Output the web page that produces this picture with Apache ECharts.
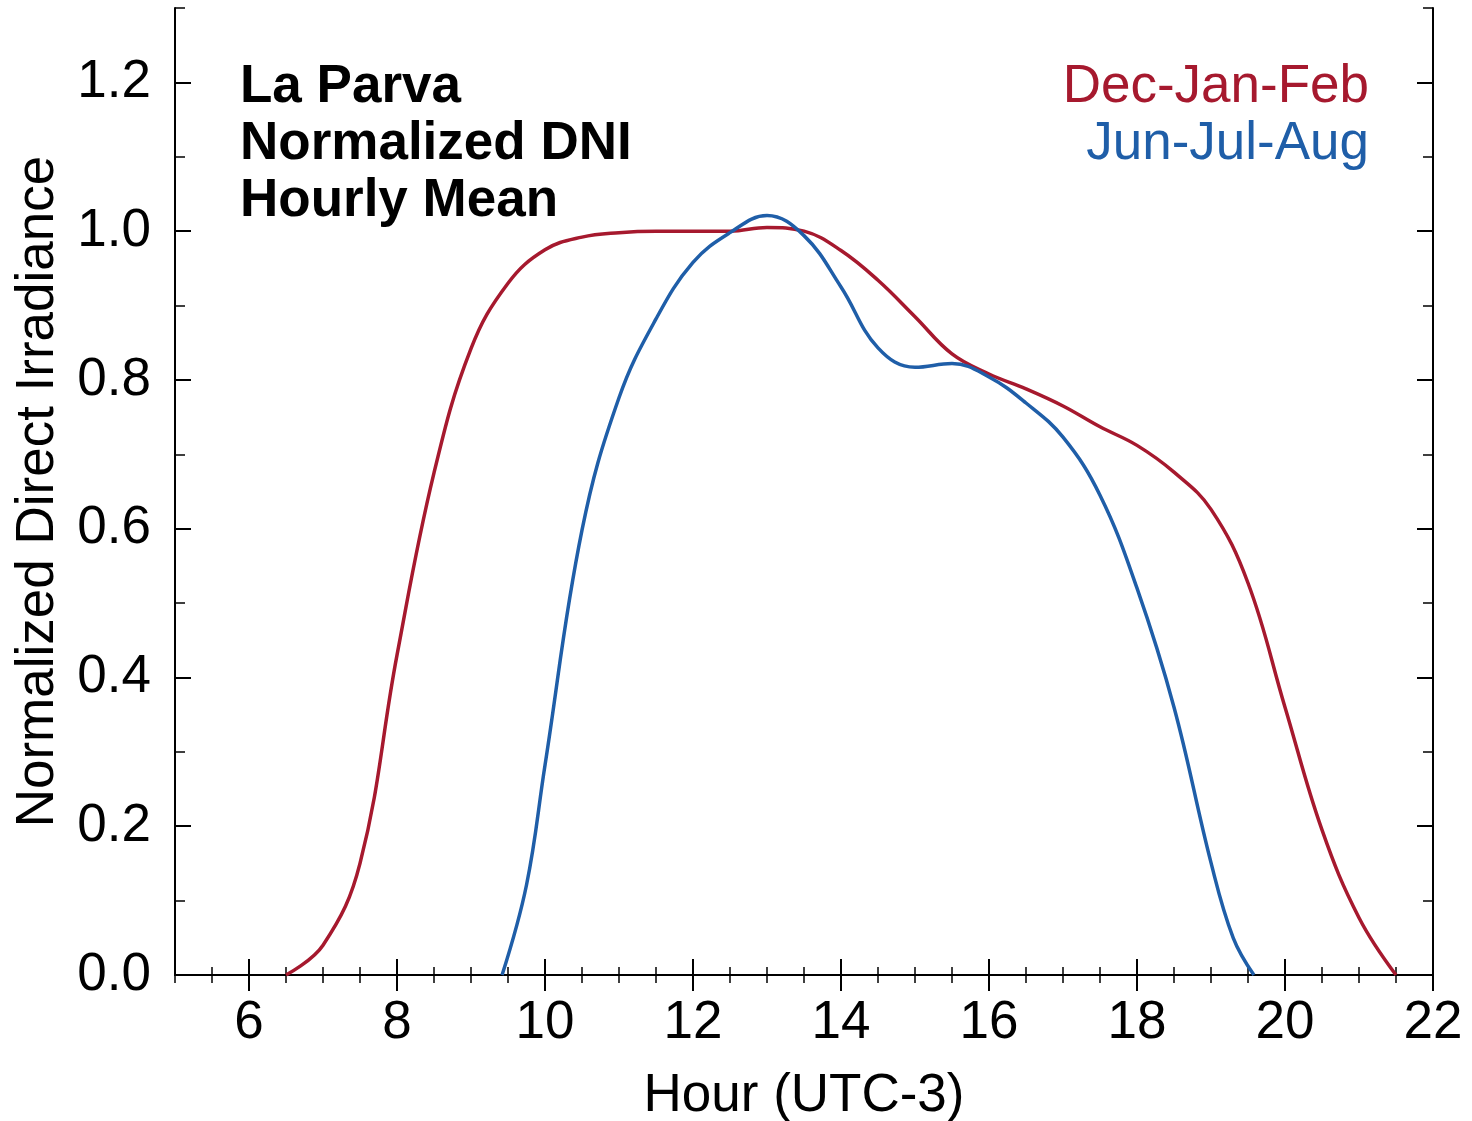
<!DOCTYPE html>
<html>
<head>
<meta charset="utf-8">
<title>La Parva Normalized DNI</title>
<script src="https://cdn.jsdelivr.net/npm/echarts@6/dist/echarts.min.js"></script>
<style>
  html, body { margin: 0; padding: 0; background: #fff; }
  #chart { width: 1472px; height: 1121px; }
</style>
</head>
<body>
<div id="chart"></div>
<script>
// Dec-Jan-Feb hourly mean, normalized (read every half hour)
var summerHours  = [6.5, 7.0, 7.5, 8.0, 8.5, 9.0, 9.5, 10.0, 10.5, 11.0, 11.5, 12.0, 12.5, 13.0, 13.5, 14.0, 14.5, 15.0, 15.5, 16.0, 16.5, 17.0, 17.5, 18.0, 18.5, 19.0, 19.5, 20.0, 20.5, 21.0, 21.5];
var summerValues = [0.0, 0.04, 0.15, 0.43, 0.675, 0.842, 0.93, 0.975, 0.992, 0.998, 1.0, 1.0, 1.0, 1.005, 1.0, 0.974, 0.934, 0.885, 0.835, 0.808, 0.788, 0.765, 0.737, 0.712, 0.676, 0.626, 0.527, 0.36, 0.195, 0.077, 0.0];

// Jun-Jul-Aug
var winterHours  = [9.42, 9.75, 10.0, 10.5, 11.0, 11.5, 12.0, 12.5, 13.0, 13.5, 14.0, 14.5, 15.0, 15.5, 16.0, 16.5, 17.0, 17.5, 18.0, 18.5, 19.0, 19.3, 19.58];
var winterValues = [0.0, 0.121, 0.282, 0.598, 0.776, 0.882, 0.958, 0.998, 1.021, 0.994, 0.925, 0.843, 0.817, 0.822, 0.804, 0.769, 0.723, 0.645, 0.52, 0.36, 0.151, 0.05, 0.0];

var xMajor = [6, 8, 10, 12, 14, 16, 18, 20, 22];
var yMajor = [0, 0.2, 0.4, 0.6, 0.8, 1.0, 1.2];

var RED = '#A6192E';
var BLUE = '#1F5EA8';
var FONT = 'Liberation Sans, Arial, sans-serif';

function zip(xs, ys) {
  return xs.map(function (x, i) { return [x, ys[i]]; });
}

var lineStyleAxis = { color: '#000', width: 2 };

function majorX(pos, withLabel) {
  return {
    type: 'value', position: pos, min: 5, max: 22,
    axisLine: { show: true, lineStyle: lineStyleAxis },
    axisTick: { show: true, inside: true, length: 16, lineStyle: { color: '#000', width: 2 }, customValues: xMajor },
    axisLabel: withLabel ? {
      show: true, customValues: xMajor, fontSize: 53, color: '#000', fontFamily: FONT, margin: 22
    } : { show: false },
    splitLine: { show: false },
    name: withLabel ? 'Hour (UTC-3)' : '',
    nameLocation: 'middle', nameGap: 95,
    nameTextStyle: { fontSize: 53, color: '#000', fontFamily: FONT }
  };
}
function minorX(pos) {
  return {
    type: 'value', position: pos, min: 5, max: 22, interval: 0.5,
    axisLine: { show: false },
    axisTick: { show: true, inside: true, length: 8, lineStyle: { color: '#000', width: 1.5 } },
    axisLabel: { show: false },
    splitLine: { show: false }
  };
}
function majorY(pos, withLabel) {
  return {
    type: 'value', position: pos, min: 0, max: 1.3,
    axisLine: { show: true, lineStyle: lineStyleAxis },
    axisTick: { show: true, inside: true, length: 16, lineStyle: { color: '#000', width: 2 }, customValues: yMajor },
    axisLabel: withLabel ? {
      show: true, customValues: yMajor, fontSize: 53, color: '#000', fontFamily: FONT, margin: 24,
      formatter: function (v) { return v.toFixed(1); }
    } : { show: false },
    splitLine: { show: false },
    name: withLabel ? 'Normalized Direct Irradiance' : '',
    nameLocation: 'middle', nameGap: 110,
    nameTextStyle: { fontSize: 53, color: '#000', fontFamily: FONT }
  };
}
function minorY(pos) {
  return {
    type: 'value', position: pos, min: 0, max: 1.3, interval: 0.1,
    axisLine: { show: false },
    axisTick: { show: true, inside: true, length: 10, lineStyle: { color: '#000', width: 1.5 } },
    axisLabel: { show: false },
    splitLine: { show: false }
  };
}

var myChart = echarts.init(document.getElementById('chart'));
myChart.setOption({
  backgroundColor: '#fff',
  animation: false,
  grid: { left: 175, right: 39, top: 8, bottom: 146, containLabel: false, outerBoundsMode: 'none' },
  title: {
    text: 'La Parva\nNormalized DNI\nHourly Mean',
    left: 235, top: 54,
    textStyle: { fontSize: 53, fontWeight: 'bold', color: '#000', fontFamily: FONT, lineHeight: 57 }
  },
  legend: {
    orient: 'vertical', right: 93, top: 54, align: 'right',
    icon: 'none', itemWidth: 0, itemHeight: 0, itemGap: 0,
    selectedMode: false,
    textStyle: { fontSize: 53, fontFamily: FONT, lineHeight: 57 },
    data: [
      { name: 'Dec-Jan-Feb', textStyle: { color: RED } },
      { name: 'Jun-Jul-Aug', textStyle: { color: BLUE } }
    ]
  },
  xAxis: [majorX('bottom', true), minorX('bottom'), majorX('top', false), minorX('top')],
  yAxis: [majorY('left', true), minorY('left'), majorY('right', false), minorY('right')],
  series: [
    {
      name: 'Dec-Jan-Feb', type: 'line', xAxisIndex: 0, yAxisIndex: 0,
      data: zip(summerHours, summerValues),
      smooth: 0.4, showSymbol: false,
      lineStyle: { color: RED, width: 3.5 }, itemStyle: { color: RED }
    },
    {
      name: 'Jun-Jul-Aug', type: 'line', xAxisIndex: 0, yAxisIndex: 0,
      data: zip(winterHours, winterValues),
      smooth: 0.4, showSymbol: false,
      lineStyle: { color: BLUE, width: 3.5 }, itemStyle: { color: BLUE }
    }
  ]
});
</script>
</body>
</html>
